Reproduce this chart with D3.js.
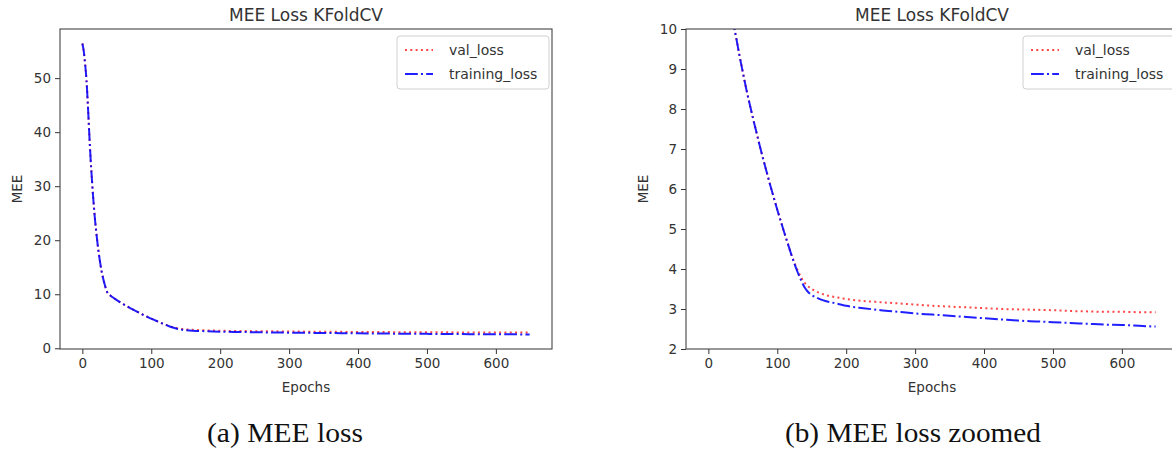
<!DOCTYPE html>
<html><head><meta charset="utf-8">
<script src="https://cdn.jsdelivr.net/npm/d3@7"></script>
<style>body{margin:0;background:#fff;overflow:hidden} svg{display:block}</style>
</head><body><svg id="c" width="1172" height="451"></svg>
<script>
// ---- data ----
const epochs = [0,2,4,6,8,10,12,14,16,18,20,22,24,26,28,30,32,34,36,38,40,45,50,55,60,65,70,75,80,85,90,95,100,105,110,115,120,125,130,135,140,145,150,155,160,170,180,190,200,225,250,275,300,325,350,375,400,425,450,475,500,525,550,575,600,625,649];
const trainingLoss = [56.4,55.0,52.6,49.6,45.0,39.8,35.0,31.0,27.4,24.3,21.7,19.4,17.4,15.7,14.2,13.0,12.0,11.1,10.4,10.0,9.82,9.35,8.92,8.5,8.12,7.75,7.4,7.05,6.72,6.4,6.08,5.78,5.48,5.2,4.92,4.65,4.38,4.13,3.9,3.7,3.53,3.42,3.35,3.3,3.26,3.2,3.16,3.12,3.08,3.02,2.97,2.93,2.89,2.86,2.83,2.8,2.77,2.74,2.71,2.69,2.67,2.65,2.63,2.61,2.6,2.58,2.56];
const valLoss = [56.4,55.0,52.6,49.6,45.0,39.8,35.0,31.0,27.4,24.3,21.7,19.4,17.4,15.7,14.2,13.0,12.0,11.1,10.4,10.0,9.82,9.35,8.92,8.5,8.12,7.75,7.4,7.05,6.72,6.4,6.08,5.78,5.48,5.2,4.92,4.65,4.38,4.15,3.95,3.78,3.65,3.56,3.5,3.45,3.41,3.35,3.31,3.28,3.25,3.2,3.17,3.14,3.11,3.08,3.06,3.04,3.02,3.0,2.99,2.98,2.97,2.95,2.94,2.93,2.93,2.92,2.92];
const xTicks = [0,100,200,300,400,500,600];
const yTicksFull = [0,10,20,30,40,50];
const yTicksZoom = [2,3,4,5,6,7,8,9,10];
const seriesNames = ["val_loss","training_loss"];
const chartTitle = "MEE Loss KFoldCV";
const xLabel = "Epochs";
const yLabel = "MEE";
const captions = ["(a) MEE loss","(b) MEE loss zoomed"];

// ---- drawing ----
const svg = d3.select("#c");
const FONT = "DejaVu Sans";
const AX_W = 492, AX_H = 320, TOP = 29;
const styles = {
  val_loss: {color:"rgba(255,0,0,0.72)", dash:"2,3.3"},
  training_loss: {color:"rgba(0,0,255,0.88)", dash:"12.8,3.2,2,3.2"}
};

const xmin = d3.min(epochs), xmax = d3.max(epochs);
const xpad = (xmax - xmin) * 0.05;
const allVals = trainingLoss.concat(valLoss);
const vmin = d3.min(allVals), vmax = d3.max(allVals), vpad = (vmax - vmin) * 0.05;

function panel(id, left, yDomain, yTicks, caption, capWidth, capX) {
  const g = svg.append("g").attr("transform", `translate(${left},${TOP})`);
  const x = d3.scaleLinear().domain([xmin - xpad, xmax + xpad]).range([0, AX_W]);
  const y = d3.scaleLinear().domain(yDomain).range([AX_H, 0]);

  g.append("clipPath").attr("id", "clip" + id)
    .append("rect").attr("width", AX_W).attr("height", AX_H);

  const line = d3.line().x(d => x(d[0])).y(d => y(d[1])).curve(d3.curveMonotoneX);
  const series = {val_loss: valLoss, training_loss: trainingLoss};
  const lines = g.append("g").attr("clip-path", `url(#clip${id})`);
  seriesNames.forEach(n => {
    lines.append("path")
      .datum(epochs.map((e, i) => [e, series[n][i]]))
      .attr("d", line).attr("fill", "none")
      .attr("stroke", styles[n].color).attr("stroke-width", 2)
      .attr("stroke-dasharray", styles[n].dash);
  });

  const xa = g.append("g").attr("transform", `translate(0,${AX_H})`)
    .call(d3.axisBottom(x).tickValues(xTicks).tickSize(5).tickPadding(4).tickFormat(d3.format("d")));
  const ya = g.append("g")
    .call(d3.axisLeft(y).tickValues(yTicks).tickSize(5).tickPadding(4).tickFormat(d3.format("d")));
  [xa, ya].forEach(a => {
    a.select(".domain").remove();
    a.selectAll("line").attr("stroke", "#333").attr("stroke-width", 1);
    a.selectAll("text").attr("font-family", FONT).attr("font-size", 13.5).attr("fill", "#333");
  });

  g.append("rect").attr("width", AX_W).attr("height", AX_H)
    .attr("fill", "none").attr("stroke", "#444").attr("stroke-width", 1.1);

  g.append("text").attr("x", AX_W / 2).attr("y", -8).attr("text-anchor", "middle")
    .attr("font-family", FONT).attr("font-size", 17).attr("fill", "#333").text(chartTitle);
  g.append("text").attr("x", AX_W / 2).attr("y", AX_H + 43).attr("text-anchor", "middle")
    .attr("font-family", FONT).attr("font-size", 13.5).attr("fill", "#333").text(xLabel);
  g.append("text").attr("transform", `translate(-38,${AX_H / 2}) rotate(-90)`)
    .attr("text-anchor", "middle").attr("font-family", FONT).attr("font-size", 13.5)
    .attr("fill", "#333").text(yLabel);

  // legend
  const lw = 152, lh = 53;
  const lg = g.append("g").attr("transform", `translate(${AX_W - 3 - lw},7)`);
  lg.append("rect").attr("width", lw).attr("height", lh).attr("rx", 3)
    .attr("fill", "rgba(255,255,255,0.8)").attr("stroke", "#d0d0d0");
  seriesNames.forEach((n, i) => {
    const cy = 14 + i * 24;
    lg.append("line").attr("x1", 8).attr("x2", 36).attr("y1", cy).attr("y2", cy)
      .attr("stroke", styles[n].color).attr("stroke-width", 2).attr("stroke-dasharray", styles[n].dash);
    lg.append("text").attr("x", 52).attr("y", cy).attr("dy", "0.35em")
      .attr("font-family", FONT).attr("font-size", 14).attr("fill", "#333").text(n);
  });

  svg.append("text").attr("x", capX).attr("y", 442)
    .attr("text-anchor", "middle").attr("font-family", "Liberation Serif")
    .attr("font-size", 27).attr("fill", "#111")
    .attr("textLength", capWidth).attr("lengthAdjust", "spacingAndGlyphs").text(caption);
}

panel(0, 60, [vmin - vpad, vmax + vpad], yTicksFull, captions[0], 156, 285);
panel(1, 686, [2, 10], yTicksZoom, captions[1], 256, 913);
</script></body></html>
